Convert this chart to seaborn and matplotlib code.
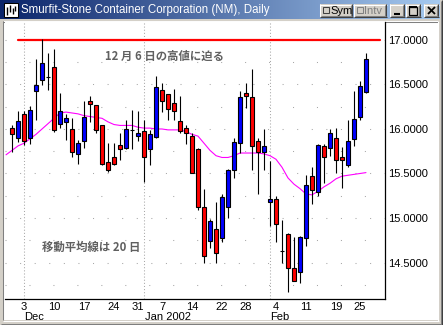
import numpy as np
import pandas as pd
import matplotlib
matplotlib.use("Agg")
import matplotlib.pyplot as plt
import matplotlib.transforms as mtrans
import seaborn as sns
from matplotlib.patches import Rectangle

sns.set_theme(style="white")
plt.rcParams['font.family'] = ['Liberation Sans', 'Noto Sans CJK JP', 'DejaVu Sans']

# ---------------- data ----------------
title = "Smurfit-Stone Container Corporation (NM), Daily"
holidays = ["2001-12-25", "2002-01-01", "2002-01-21", "2002-02-18"]
dates = pd.bdate_range("2001-11-29", "2002-02-26")
dates = dates[~dates.isin(pd.to_datetime(holidays))]

opens = [16.01, 15.90, 16.17, 15.90, 16.43, 16.55, 16.58, 16.70, 16.06, 16.08,
         16.00, 15.72, 15.86, 16.31, 16.27, 16.05, 15.63, 15.69, 15.82, 15.79,
         15.99, 15.92, 15.98, 15.78, 15.91, 16.44, 16.39, 16.29, 16.09, 16.01,
         15.92, 15.78, 15.12, 14.74, 14.88, 14.77, 15.12, 15.54, 15.84, 16.40,
         16.36, 15.87, 15.74, 15.18, 15.21, 14.63, 14.82, 14.44, 14.39, 14.78,
         15.47, 15.29, 15.81, 15.79, 15.90, 15.69, 15.59, 15.89, 16.14, 16.41]
highs = [16.05, 16.20, 16.20, 16.26, 16.79, 17.01, 16.85, 16.90, 16.40, 16.17,
         16.12, 15.88, 16.31, 16.37, 16.27, 16.05, 15.84, 15.84, 15.96, 16.10,
         16.21, 16.20, 16.10, 15.99, 16.59, 16.52, 16.39, 16.45, 16.37, 16.04,
         15.96, 15.79, 15.33, 14.99, 15.18, 15.27, 15.55, 15.90, 16.43, 16.52,
         16.67, 15.90, 16.00, 15.64, 15.25, 14.98, 14.83, 14.79, 14.80, 15.48,
         15.57, 15.83, 15.83, 16.00, 16.01, 15.80, 16.10, 16.43, 16.54, 16.85]
lows = [15.74, 15.85, 15.82, 15.83, 16.10, 16.49, 16.44, 15.97, 16.01, 15.88,
        15.69, 15.61, 15.79, 16.08, 15.95, 15.59, 15.52, 15.59, 15.65, 15.77,
        15.78, 15.87, 15.41, 15.60, 15.90, 16.19, 16.10, 16.10, 15.95, 15.83,
        15.50, 15.09, 14.50, 14.66, 14.50, 14.73, 15.00, 15.45, 15.73, 16.24,
        15.54, 15.27, 15.54, 14.91, 14.73, 14.49, 14.17, 14.29, 14.27, 14.69,
        15.16, 15.25, 15.39, 15.70, 15.50, 15.34, 15.57, 15.81, 16.10, 16.40]
closes = [15.94, 16.09, 15.87, 16.21, 16.49, 16.74, 16.58, 15.99, 16.20, 16.12,
          15.74, 15.84, 16.14, 16.28, 15.99, 15.61, 15.54, 15.61, 15.78, 16.00,
          15.99, 15.96, 15.69, 15.94, 16.47, 16.31, 16.23, 16.20, 15.98, 15.95,
          15.51, 15.12, 14.57, 14.97, 14.61, 15.24, 15.54, 15.85, 16.36, 16.37,
          15.81, 15.74, 15.81, 15.21, 14.93, 14.63, 14.44, 14.29, 14.79, 15.37,
          15.32, 15.82, 15.68, 15.96, 15.65, 15.655, 15.87, 16.11, 16.48, 16.79]
# 20-day moving average as drawn, starting one session before the first candle
ma20 = [15.71, 15.76, 15.81, 15.84, 15.89, 15.94, 16.00, 16.06, 16.12, 16.18,
        16.19, 16.18, 16.17, 16.15, 16.14, 16.13, 16.12, 16.08, 16.05, 16.04,
        16.04, 16.04, 16.02, 16.01, 16.01, 16.00, 16.00, 15.99, 15.99, 15.99,
        15.97, 15.94, 15.92, 15.84, 15.76, 15.70, 15.68, 15.68, 15.70, 15.73,
        15.73, 15.73, 15.73, 15.72, 15.70, 15.66, 15.57, 15.45, 15.38, 15.33,
        15.27, 15.26, 15.30, 15.35, 15.39, 15.44, 15.47, 15.48, 15.49, 15.50,
        15.51]
resistance = 17.00
day_ticks = ["2001-12-03", "2001-12-10", "2001-12-17", "2001-12-24", "2001-12-31",
             "2002-01-07", "2002-01-14", "2002-01-22", "2002-01-28",
             "2002-02-04", "2002-02-11", "2002-02-19", "2002-02-25"]
month_labels = ["Dec", "Jan 2002", "Feb"]
price_ticks = [14.5, 15.0, 15.5, 16.0, 16.5, 17.0]
note_top = "12 月 6 日の高値に迫る"
note_bottom = "移動平均線は 20 日"

# ---------------- figure / window chrome ----------------
W, H = 443, 325
fig = plt.figure(figsize=(W / 100, H / 100), dpi=100, facecolor="#D4D0C8")
bg = fig.add_axes([0, 0, 1, 1], zorder=0)
bg.set_axis_off()


def rect(x, y, w, h, fc, ec="none", lw=0.0, z=1):
    bg.add_patch(Rectangle((x, y), w, h, facecolor=fc, edgecolor=ec, linewidth=lw, zorder=z))


def line(xs, ys, c, lw=0.75, z=3):
    bg.plot(xs, ys, color=c, lw=lw, zorder=z, solid_capstyle="butt")


# title bar gradient
c0 = np.array([10, 36, 106]) / 255
c1 = np.array([166, 202, 240]) / 255
t = np.linspace(0, 1, 256)[None, :, None]
grad = c0 + (c1 - c0) * t
bg.imshow(grad, extent=(0, 440, 19, 0), aspect="auto", zorder=1, interpolation="bilinear")

# icon
rect(4, 3, 14, 14, "white", "black", 0.75, z=2)
for xx, y0, y1 in [(7, 7, 15), (10, 5, 12), (13, 8, 14), (15.5, 6, 11)]:
    line([xx, xx], [y0, y1], "black", 1.0)

bg.text(21, 10.5, title, color="white", fontsize=8.3, va="center", ha="left", zorder=4)


def button(x, y, w, h):
    rect(x, y, w, h, "#D4D0C8", z=2)
    line([x, x + w], [y + 0.5, y + 0.5], "white")
    line([x + 0.5, x + 0.5], [y, y + h], "white")
    line([x, x + w], [y + h - 0.5, y + h - 0.5], "#404040")
    line([x + w - 0.5, x + w - 0.5], [y, y + h], "#404040")
    line([x + 1, x + w - 1], [y + h - 1.5, y + h - 1.5], "#808080")
    line([x + w - 1.5, x + w - 1.5], [y + 1, y + h - 1], "#808080")


button(320, 4, 33, 13)
rect(323, 7, 6, 6, "#D4D0C8", "#404040", 0.75, z=4)
bg.text(330, 10.5, "Sym", fontsize=8, va="center", ha="left", color="black", zorder=5)
button(354, 4, 33, 13)
rect(357, 7, 6, 6, "#D4D0C8", "#808080", 0.75, z=4)
bg.text(364, 10.5, "Intv", fontsize=8, va="center", ha="left", color="#808080", zorder=5)
button(390, 4, 15, 13)
line([394, 400], [14, 14], "black", 1.5, z=5)
button(406, 4, 15, 13)
rect(409.5, 6.5, 8, 8, "none", "black", 0.9, z=5)
line([409.5, 417.5], [7, 7], "black", 1.5, z=5)
button(424, 4, 15, 13)
line([428, 435], [7, 14], "black", 1.3, z=5)
line([428, 435], [14, 7], "black", 1.3, z=5)

# client area
rect(4, 21, 434, 299, "white", z=1)
line([3.5, 3.5], [21, 320], "#808080")
line([3, 438], [21.5, 21.5], "#808080")
line([438.5, 438.5], [21, 321], "white")
line([3, 439], [320.5, 320.5], "white")
line([1, 442], [323.5, 323.5], "#808080")
line([441.5, 441.5], [1, 324], "#808080")
line([442.5, 442.5], [0, 325], "#404040")
line([0, 443], [324.5, 324.5], "#404040")

bg.set_xlim(0, W)
bg.set_ylim(H, 0)

# ---------------- chart ----------------
ax = fig.add_axes([5 / W, 1 - 299 / H, 380 / W, 277 / H], zorder=2)
ax.set_facecolor("white")
ax.set_xlim(-1.17, 62.17)
ax.set_ylim(14.090, 17.202)

idx = np.arange(len(dates))
df = pd.DataFrame({"i": idx, "open": opens, "high": highs, "low": lows, "close": closes})

# grid
grid_c = "#A8A8A8"
for p in np.arange(14.25, 17.01, 0.25):
    major = abs((p * 2) - round(p * 2)) < 1e-6
    ax.axhline(p, color=grid_c, lw=0.75, linestyle=(0, (1, 13) if major else (1, 22)), zorder=0)
month_first = [d for k, d in enumerate(dates) if k > 0 and d.month != dates[k - 1].month]
month_first_idx = [int(np.where(dates == d)[0][0]) for d in month_first]
for mi in month_first_idx:
    ax.axvline(mi, color=grid_c, lw=0.75, linestyle=(0, (1, 2)), zorder=0)

# resistance line (Dec 6 high)
ax.axhline(resistance, xmin=0.034, xmax=0.987, color="#FF0000", lw=1.6, zorder=3)

# moving average through seaborn
ma_df = pd.DataFrame({"i": np.arange(-1, len(dates)), "ma": ma20})
sns.lineplot(data=ma_df, x="i", y="ma", ax=ax, color="#FF00FF", lw=0.8, zorder=2)

# candles
ax.vlines(df["i"], df["low"], df["high"], color="black", lw=0.8, zorder=4)
body_bottom = np.minimum(df["open"], df["close"])
body_h = np.abs(df["close"] - df["open"])
colors = np.where(df["close"] > df["open"], "#0000FF",
                  np.where(df["close"] < df["open"], "#FF0000", "black"))
ax.bar(df["i"], body_h, bottom=body_bottom, width=0.82, color=colors,
       edgecolor="black", linewidth=0.8, zorder=5)

# notes
ax.text(15.5, 16.82, note_top, fontsize=8.2, color="#606060", ha="left", va="center",
        family=["Noto Sans CJK JP", "DejaVu Sans"], fontweight="bold", zorder=6)
ax.text(5.0, 14.67, note_bottom, fontsize=8.2, color="#606060", ha="left", va="center",
        family=["Noto Sans CJK JP", "DejaVu Sans"], fontweight="bold", zorder=6)

# axes styling
for s in ["top", "left"]:
    ax.spines[s].set_visible(False)
for s in ["right", "bottom"]:
    ax.spines[s].set_color("black")
    ax.spines[s].set_linewidth(0.9)
ax.yaxis.tick_right()
ax.set_yticks(price_ticks)
ax.set_yticklabels([f"{v:.4f}" for v in price_ticks])
ax.tick_params(axis="y", length=0, pad=2, labelsize=8, colors="black")
tick_pos = [int(np.where(dates == pd.Timestamp(d))[0][0]) for d in day_ticks]
ax.set_xticks(tick_pos)
ax.set_xticklabels([str(pd.Timestamp(d).day) for d in day_ticks])
ax.tick_params(axis="x", length=0, pad=2, labelsize=8, colors="black")
ax.set_xlabel("")
ax.set_ylabel("")
ax.grid(False)

trans = mtrans.blended_transform_factory(ax.transData, ax.transAxes)
for mi, lab in zip(month_first_idx, month_labels):
    ax.text(mi + 0.1, -0.048, lab, transform=trans, fontsize=8, ha="left", va="top",
            color="black", clip_on=False)

fig.savefig("out.png", dpi=100, facecolor=fig.get_facecolor())
